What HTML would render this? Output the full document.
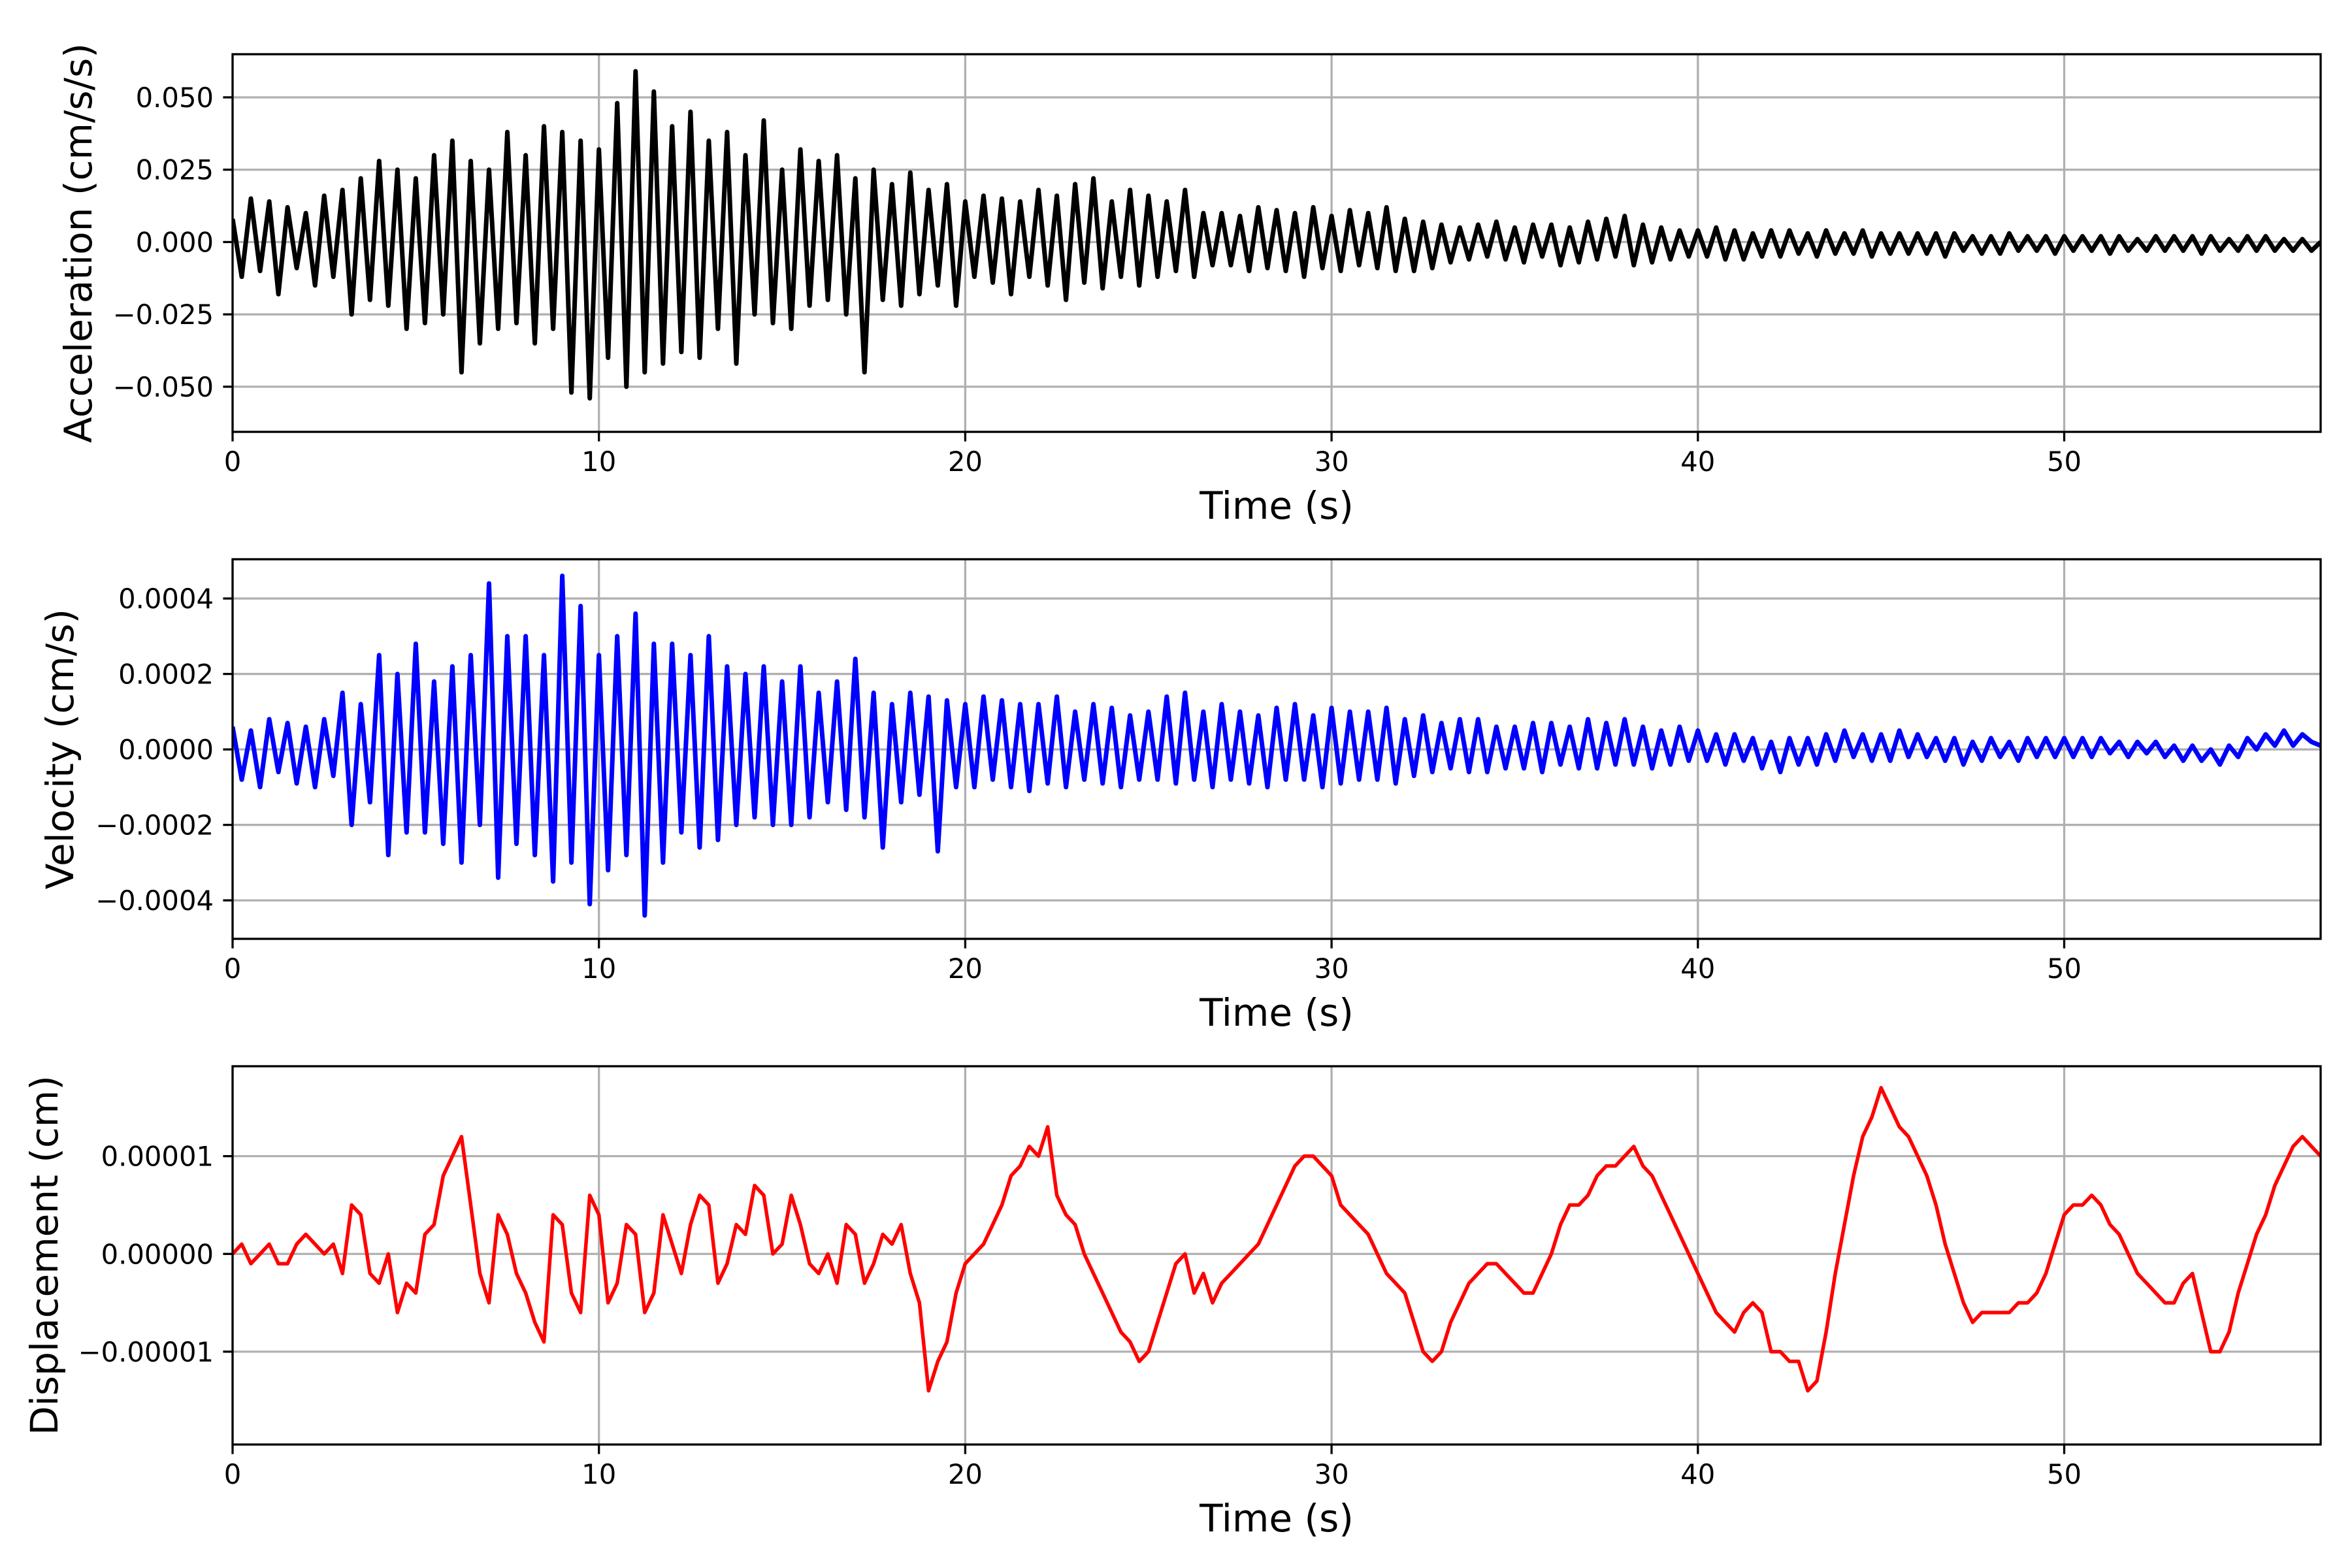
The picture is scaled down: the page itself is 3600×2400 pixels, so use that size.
<!DOCTYPE html>
<html><head><meta charset="utf-8">
<style>
html,body{margin:0;padding:0;background:#fff;}
svg{display:block;font-family:"DejaVu Sans","Liberation Sans",sans-serif;}
</style></head>
<body>
<svg id="fig" width="3600" height="2400" viewBox="0 0 3600 2400" xmlns="http://www.w3.org/2000/svg">
<rect x="0" y="0" width="3600" height="2400" fill="#fff"/>
</svg>
<script>
// time step (s) of the sampled series
const accStep = 0.25;
const velStep = 0.25;
const dispStep = 0.25;
// acceleration in 1e-3 cm/s/s
const accValues = [
8,-12,15,-10, 14,-18,12,-9, 10,-15,16,-12, 18,-25,22,-20, 28,-22,25,-30,
22,-28,30,-25, 35,-45,28,-35, 25,-30,38,-28, 30,-35,40,-30, 38,-52,35,-54,
32,-40,48,-50, 59,-45,52,-42, 40,-38,45,-40, 35,-30,38,-42, 30,-25,42,-28,
25,-30,32,-22, 28,-20,30,-25, 22,-45,25,-20, 20,-22,24,-18, 18,-15,20,-22,
14,-12,16,-14, 15,-18,14,-12, 18,-15,16,-20, 20,-14,22,-16, 14,-12,18,-15,
16,-12,14,-10, 18,-12,10,-8, 10,-8,9,-10, 12,-9,11,-10, 10,-12,12,-9,
9,-10,11,-8, 10,-9,12,-10, 8,-10,7,-9, 6,-7,5,-6, 6,-5,7,-6,
5,-7,6,-5, 6,-8,5,-7, 7,-6,8,-5, 9,-8,6,-7, 5,-6,4,-5,
4,-5,5,-6, 4,-6,3,-5, 4,-5,4,-4, 3,-5,4,-4, 3,-4,4,-5,
3,-4,3,-4, 3,-4,3,-5, 3,-3,2,-4, 2,-4,3,-3, 2,-3,2,-4,
2,-3,2,-3, 2,-4,2,-3, 1,-3,2,-3, 2,-3,2,-4, 2,-3,1,-3,
2,-3,2,-3, 1,-3,1,-3, 0];
// velocity in 1e-5 cm/s
const velValues = [
6,-8,5,-10, 8,-6,7,-9, 6,-10,8,-7, 15,-20,12,-14, 25,-28,20,-22,
28,-22,18,-25, 22,-30,25,-20, 44,-34,30,-25, 30,-28,25,-35, 46,-30,38,-41,
25,-32,30,-28, 36,-44,28,-30, 28,-22,25,-26, 30,-24,22,-20, 20,-18,22,-20,
18,-20,22,-18, 15,-14,18,-16, 24,-18,15,-26, 12,-14,15,-12, 14,-27,13,-10,
12,-10,14,-8, 13,-10,12,-11, 12,-9,14,-10, 10,-8,12,-9, 11,-10,9,-8,
10,-8,14,-9, 15,-8,10,-10, 12,-8,10,-9, 9,-10,11,-8, 12,-8,9,-10,
11,-9,10,-8, 10,-8,11,-9, 8,-7,9,-6, 7,-5,8,-6, 8,-6,6,-5,
6,-5,7,-6, 7,-4,6,-5, 8,-5,7,-4, 8,-4,6,-5, 5,-4,6,-3,
5,-3,4,-4, 4,-3,3,-5, 2,-6,3,-4, 3,-4,4,-3, 5,-2,4,-3,
4,-3,5,-2, 4,-2,3,-3, 3,-4,2,-3, 3,-2,2,-3, 3,-2,3,-2,
3,-2,3,-2, 3,-1,2,-2, 2,-1,2,-2, 1,-3,1,-3, 0,-4,1,-2,
3,0,4,1, 5,1,4,2, 1];
// displacement in 1e-6 cm
const dispValues = [
0,1,-1,0, 1,-1,-1,1, 2,1,0,1, -2,5,4,-2, -3,0,-6,-3,
-4,2,3,8, 10,12,5,-2, -5,4,2,-2, -4,-7,-9,4, 3,-4,-6,6,
4,-5,-3,3, 2,-6,-4,4, 1,-2,3,6, 5,-3,-1,3, 2,7,6,0,
1,6,3,-1, -2,0,-3,3, 2,-3,-1,2, 1,3,-2,-5, -14,-11,-9,-4,
-1,0,1,3, 5,8,9,11, 10,13,6,4, 3,0,-2,-4, -6,-8,-9,-11,
-10,-7,-4,-1, 0,-4,-2,-5, -3,-2,-1,0, 1,3,5,7, 9,10,10,9,
8,5,4,3, 2,0,-2,-3, -4,-7,-10,-11, -10,-7,-5,-3, -2,-1,-1,-2,
-3,-4,-4,-2, 0,3,5,5, 6,8,9,9, 10,11,9,8, 6,4,2,0,
-2,-4,-6,-7, -8,-6,-5,-6, -10,-10,-11,-11, -14,-13,-8,-2, 3,8,12,14,
17,15,13,12, 10,8,5,1, -2,-5,-7,-6, -6,-6,-6,-5, -5,-4,-2,1,
4,5,5,6, 5,3,2,0, -2,-3,-4,-5, -5,-3,-2,-6, -10,-10,-8,-4,
-1,2,4,7, 9,11,12,11, 10];
const xTicks = [0,10,20,30,40,50];
const accTicks = [-0.05,-0.025,0,0.025,0.05];
const accTickLabels = ["\u22120.050","\u22120.025","0.000","0.025","0.050"];
const velTicks = [-0.0004,-0.0002,0,0.0002,0.0004];
const velTickLabels = ["\u22120.0004","\u22120.0002","0.0000","0.0002","0.0004"];
const dispTicks = [-0.00001,0,0.00001];
const dispTickLabels = ["\u22120.00001","0.00000","0.00001"];

const NS = "http://www.w3.org/2000/svg";
const svg = document.getElementById('fig');
const L = 356, R = 3552, XMAX = 57;
function mk(tag, attrs, parent){
  const e = document.createElementNS(NS, tag);
  for (const k in attrs) e.setAttribute(k, attrs[k]);
  (parent||svg).appendChild(e);
  return e;
}
function panel(cfg){
  const g = mk('g', {});
  
  
  const xs = t => L + (t / XMAX) * (R - L);
  const ys = v => cfg.top + (cfg.ymax - v) / (cfg.ymax - cfg.ymin) * (cfg.bot - cfg.top);
  xTicks.forEach(t => {
    const ln = mk('line', {x1:xs(t), x2:xs(t), y1:cfg.top, y2:cfg.bot, stroke:'#b0b0b0', 'stroke-width':3.3}, g);
    
    
  });
  cfg.ticks.forEach(v => {
    const ln = mk('line', {x1:L, x2:R, y1:ys(v), y2:ys(v), stroke:'#b0b0b0', 'stroke-width':3.3}, g);
    
    
  });
  let d = '';
  cfg.values.forEach((v, i) => {
    d += (i ? 'L' : 'M') + xs(i * cfg.step).toFixed(1) + ',' + ys(v * cfg.scale).toFixed(1);
  });
  const clipId = 'clip-' + cfg.name;
  const cp = mk('clipPath', {id: clipId}, g);
  mk('rect', {x:L, y:cfg.top, width:R-L, height:cfg.bot-cfg.top}, cp);
  const path = mk('path', {d:d, fill:'none', stroke:cfg.color, 'stroke-width':cfg.lw, 'stroke-linejoin':'round', 'clip-path':'url(#'+clipId+')'}, g);
  
  
  const fr = mk('rect', {x:L, y:cfg.top, width:R-L, height:cfg.bot-cfg.top, fill:'none', stroke:'#000', 'stroke-width':3.3}, g);
  
  
  xTicks.forEach(t => {
    mk('line', {x1:xs(t), x2:xs(t), y1:cfg.bot, y2:cfg.bot+14.6, stroke:'#000', 'stroke-width':3.3}, g);
    const tx = mk('text', {x:xs(t), y:cfg.bot+60, 'font-size':41.7, 'text-anchor':'middle', fill:'#000'}, g);
    tx.textContent = String(t);
    
    
  });
  cfg.ticks.forEach((v, i) => {
    mk('line', {x1:L-14.6, x2:L, y1:ys(v), y2:ys(v), stroke:'#000', 'stroke-width':3.3}, g);
    const tx = mk('text', {x:L-29, y:ys(v)+15, 'font-size':41.7, 'text-anchor':'end', fill:'#000'}, g);
    tx.textContent = cfg.tickLabels[i];
    
    
  });
  const xl = mk('text', {x:(L+R)/2, y:cfg.bot+133, 'font-size':58, 'text-anchor':'middle', fill:'#000'}, g);
  xl.textContent = 'Time (s)';
  
  
  const cy = (cfg.top + cfg.bot) / 2;
  const yl = mk('text', {x:0, y:0, 'font-size':58, 'text-anchor':'middle', fill:'#000', transform:'translate('+cfg.ylx+','+cy+') rotate(-90)'}, g);
  yl.textContent = cfg.ylabel;
  
  
}
panel({name:'acceleration', top:83, bot:661, ymin:-0.0656, ymax:0.0649, values:accValues, step:accStep, scale:1e-3, color:'#000', lw:7, ticks:accTicks, tickLabels:accTickLabels, ylabel:'Acceleration (cm/s/s)', ylx:140});
panel({name:'velocity', top:856, bot:1437, ymin:-0.000502, ymax:0.000504, values:velValues, step:velStep, scale:1e-5, color:'#0000ff', lw:7, ticks:velTicks, tickLabels:velTickLabels, ylabel:'Velocity (cm/s)', ylx:112});
panel({name:'displacement', top:1632, bot:2211, ymin:-0.0000195, ymax:0.0000192, values:dispValues, step:dispStep, scale:1e-6, color:'#ff0000', lw:5.5, ticks:dispTicks, tickLabels:dispTickLabels, ylabel:'Displacement (cm)', ylx:88});
</script>
</body></html>
